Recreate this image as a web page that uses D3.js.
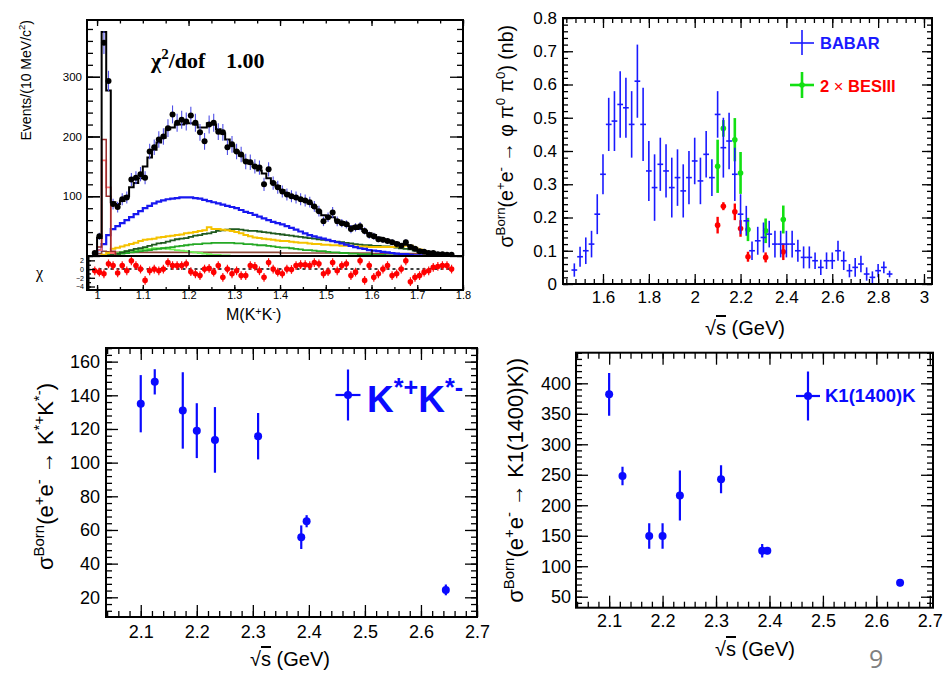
<!DOCTYPE html>
<html>
<head>
<meta charset="utf-8">
<script src="https://cdn.jsdelivr.net/npm/d3@7"></script>
<style>
  body { margin: 0; background: #fff; }
  text { white-space: pre; }
</style>
</head>
<body>
<svg id="chart" width="944" height="674"></svg>
<script>
// ---------------- M(K+K-) spectrum with fit (10 MeV bins) ----------------
const massStart = 0.995, massStep = 0.01;
const eventsData = [5,33,357,293,87,82,95,98,128,131,
  137,131,175,182,195,200,214,237,223,228,
  225,235,223,207,192,220,223,208,207,182,
  187,175,170,158,157,150,148,120,145,122,
  115,108,103,100,98,95,93,90,83,75,
  58,65,73,58,55,53,45,48,50,42,
  35,33,28,27,25,23,20,17,23,15,
  12,8,7,5,5,3,3,2,2];
const eventsErr = [2,6,19,17,9,9,10,10,11,11,
  12,11,13,13,14,14,15,15,15,15,
  15,15,15,14,14,15,15,14,14,13,
  14,13,13,13,13,12,12,11,12,11,
  11,10,10,10,10,10,10,9,9,9,
  8,8,9,8,7,7,7,7,7,6,
  6,6,5,5,5,5,4,4,5,4,
  3,3,3,2,2,2,2,1,1];
const fitTotal = [5,30,375,277,90,87,92,100,115,122,
  130,150,165,178,190,198,212,215,220,220,
  222,222,220,215,215,222,220,212,205,195,
  185,175,168,160,155,150,143,138,130,122,
  117,110,105,100,97,95,92,88,82,75,
  68,66,65,60,57,54,50,48,45,42,
  38,35,31,28,26,24,22,20,19,17,
  13,10,8,6,5,4,3,2,2];
const fitBlue = [2,10,20,35,45,50,55,60,65,70,
  75,80,84,88,91,93,95,96,97,98,
  98,98,97,96,94,92,90,88,86,84,
  82,80,77,74,72,69,66,63,60,57,
  55,53,50,47,44,41,38,35,33,31,
  29,27,25,23,21,19,17,15,13,12,
  10,9,8,7,6,5,4,3,3,2,
  1,1,0,0,0,0,0,0,0];
const fitYellow = [0,0,2,5,12,14,16,18,20,22,
  25,27,28,29,31,32,33,34,35,36,
  38,39,40,42,43,48,45,45,44,43,
  42,40,38,35,33,31,30,29,28,27,
  26,25,25,24,23,22,22,21,20,20,
  19,19,18,18,17,17,17,16,16,16,
  15,15,15,15,15,15,16,16,17,17,
  14,11,8,6,4,2,1,0,0];
const fitDarkGreen = [0,0,0,1,2,4,6,8,10,12,
  13,15,17,19,21,22,24,26,28,29,
  30,32,34,35,37,38,40,42,43,44,
  45,45,44,43,42,42,41,40,39,38,
  37,36,35,34,33,32,31,30,29,28,
  27,26,25,24,23,22,21,20,19,18,
  18,17,17,16,16,15,14,13,12,11,
  9,7,5,3,2,1,0,0,0];
const fitGreen = [0,0,0,1,2,3,4,5,6,7,
  8,9,10,11,12,13,14,15,16,17,
  18,19,20,20,21,21,22,22,22,22,
  22,21,21,20,20,19,18,18,17,16,
  15,14,14,13,12,11,10,10,9,8,
  8,7,6,6,5,5,4,4,3,3,
  3,2,2,2,1,1,1,0,0,0,
  0,0,0,0,0,0,0,0,0];
const fitLightGreen = [0,0,0,1,3,5,7,8,9,10,
  11,12,12,13,13,13,12,11,10,9,
  8,7,6,5,4,3,2,2,1,1,
  0,0,0,0,0,0,0,0,0,0,
  0,0,0,0,0,0,0,0,0,0,
  0,0,0,0,0,0,0,0,0,0,
  0,0,0,0,0,0,0,0,0,0,
  0,0,0,0,0,0,0,0,0];
const fitBrown = [0,4,8,7,6,6,6,6,6,6,
  6,6,6,6,6,6,6,6,6,6,
  6,6,6,6,6,6,6,6,6,6,
  6,6,6,6,6,6,6,6,6,6,
  6,5,5,5,5,5,5,5,5,5,
  5,5,5,5,5,5,5,5,5,5,
  5,4,4,4,4,4,4,4,4,4,
  4,4,4,2,2,2,0,0,0];
const phiBins = [0.995, 1.005, 1.015, 1.025, 1.035, 1.045];
const phiDarkRed = [0, 15, 195, 100, 8, 0];
const phiPink = [0, 10, 160, 115, 5, 0];
const chiValues = [-0.4,-0.7,-1.1,1.2,0.8,-0.9,0.8,-0.4,1.9,0.8,
  0,-2.6,-0.4,0,-0.4,0,1.5,0.8,0.8,0.8,
  1.2,-0.6,-1.1,-1.5,0,0.15,-0.7,0.8,-1.9,0,
  -1.1,-0.4,-1.5,-1.5,0.8,0.6,-0.4,-1.9,1.5,0,
  -0.7,-1.1,0,-0.1,0.8,1.0,1.0,0.8,1.5,1.2,
  -1.1,-0.6,1.5,-0.4,0.8,1.2,-1.5,-0.7,1.9,-2.6,
  0.8,-1.9,-1.1,0,0.8,-1.5,-1.1,0,1.9,-2.9,
  -1.9,-1.5,-0.7,-0.4,0.4,0.6,0.8,0.8,0];
const chiErr = 1;

// ---------------- sigma(e+e- -> phi pi0 pi0) ----------------
const babarStart = 1.475, babarStep = 0.025;
const babarValues = [0.042,0.082,0.10,0.12,0.21,0.33,0.48,0.49,0.54,0.53,
  0.48,0.61,0.48,0.34,0.29,0.36,0.34,0.29,0.32,0.28,
  0.32,0.37,0.31,0.39,0.32,0.51,0.41,0.43,0.33,0.21,
  0.19,0.10,0.13,0.14,0.15,0.12,0.12,0.12,0.12,0.10,
  0.08,0.08,0.07,0.05,0.07,0.07,0.10,0.07,0.04,0.05,
  0.06,0.03,0.02,0.04,0.05,0.03];
const babarErr = [0.02,0.03,0.04,0.04,0.06,0.06,0.08,0.09,0.10,0.09,
  0.10,0.11,0.11,0.09,0.10,0.08,0.08,0.09,0.085,0.08,
  0.08,0.07,0.07,0.07,0.055,0.07,0.09,0.085,0.08,0.06,
  0.045,0.028,0.042,0.045,0.04,0.04,0.04,0.04,0.04,0.033,
  0.033,0.033,0.025,0.023,0.025,0.025,0.03,0.028,0.02,0.028,
  0.025,0.02,0.018,0.02,0.018,0.01];
const besEnergies = [2.1, 2.125, 2.175, 2.2, 2.2324, 2.3094, 2.3864];
const besValues = [0.177, 0.234, 0.217, 0.167, 0.082, 0.080, 0.097];
const besErr = [0.025, 0.012, 0.025, 0.025, 0.015, 0.015, 0.025];
const besScale = 2;
const besScaledErr = [0.08, 0.025, 0.065, 0.063, 0.035, 0.037, 0.042];

// ---------------- K*+K*- and K1(1400)K cross sections ----------------
const scanEnergies = [2.1, 2.125, 2.175, 2.2, 2.2324, 2.3094, 2.3864, 2.396, 2.6444];
const kstarValues = [135, 148, 131, 119, 113.5, 115.7, 55.7, 65.2, 24.4];
const kstarErr = [17, 7.5, 22.7, 16.3, 19.5, 13.8, 7, 3.6, 3.2];
const k1Values = [382, 248, 149.6, 149.6, 216, 242.6, 125.5, 125.5, 73];
const k1Err = [35, 15, 21, 21, 41, 23, 11, 6, 6];

// ---------------- helpers ----------------
const FONT = "'Liberation Sans', Arial, Helvetica, sans-serif";
const SERIF = "'Liberation Serif', 'Times New Roman', serif";
const fix = v => +v.toFixed(6);
const steps = (a, b, s) => d3.range(Math.round((b - a) / s) + 1).map(i => fix(a + i * s));
const svg = d3.select("#chart");

// inward ROOT-style ticks on one side of a frame, optional labels
function ticksOn(g, side, scale, values, len, pos, opts = {}) {
  const dom = scale.domain();
  const lo = Math.min(...dom), hi = Math.max(...dom);
  const vals = values.filter(v => v >= lo - 1e-9 && v <= hi + 1e-9);
  const maker = {bottom: d3.axisBottom, top: d3.axisTop, left: d3.axisLeft, right: d3.axisRight}[side];
  const ax = maker(scale).tickValues(vals).tickSizeInner(-len).tickSizeOuter(0)
    .tickPadding(opts.pad ?? 3).tickFormat(opts.format || (() => ""));
  const horiz = side === "bottom" || side === "top";
  const s = g.append("g").attr("transform", horiz ? `translate(0,${pos})` : `translate(${pos},0)`).call(ax);
  s.select(".domain").remove();
  s.selectAll(".tick line").attr("stroke", "#000").attr("stroke-width", opts.w || 1.3);
  s.selectAll(".tick text").attr("font-family", FONT).attr("font-size", opts.size || 12).attr("fill", "#000");
  return s;
}

function frameBox(g, x, y, w) {
  const [xa, xb] = x.range(), [yb, ya] = y.range();
  g.append("rect").attr("x", xa).attr("y", ya).attr("width", xb - xa).attr("height", yb - ya)
    .attr("fill", "none").attr("stroke", "#000").attr("stroke-width", w || 2);
}

function fullFrame(g, x, y, c) {
  const [xa, xb] = x.range(), [yb, ya] = y.range();
  ticksOn(g, "bottom", x, c.xMinor, c.minLen, yb);
  ticksOn(g, "bottom", x, c.xMajor, c.majLen, yb, {format: c.xFmt, pad: c.xPad, size: c.fs});
  ticksOn(g, "top", x, c.xMinor, c.minLen, ya);
  ticksOn(g, "top", x, c.xMajor, c.majLen, ya);
  ticksOn(g, "left", y, c.yMinor, c.minLen, xa);
  ticksOn(g, "left", y, c.yMajor, c.majLen, xa, {format: c.yFmt, pad: c.yPad, size: c.fs});
  ticksOn(g, "right", y, c.yMinor, c.minLen, xb);
  ticksOn(g, "right", y, c.yMajor, c.majLen, xb);
  frameBox(g, x, y, 2);
}

// text made of normal and superscript runs
function rich(sel, parts, size, lift = 0.42) {
  let prev = 0;
  parts.forEach(([t, k]) => {
    const shift = k ? -lift * size : 0;
    sel.append("tspan").attr("dy", shift - prev).attr("font-size", k ? size * 0.68 : size).text(t);
    prev = shift;
  });
  return sel;
}

function yTitle(x, y, parts, size) {
  const t = svg.append("text").attr("transform", `translate(${x},${y}) rotate(-90)`)
    .attr("text-anchor", "end").attr("font-family", FONT).attr("fill", "#000");
  rich(t, parts, size);
}

function sqrtTitle(x, y, size) {
  const t = svg.append("text").attr("x", x).attr("y", y).attr("font-family", FONT)
    .attr("font-size", size).attr("fill", "#000");
  t.append("tspan").text("\u221A");
  t.append("tspan").attr("text-decoration", "overline").style("text-decoration", "overline").text("s");
  t.append("tspan").text(" (GeV)");
}

function clipFor(id, x, y) {
  const [xa, xb] = x.range(), [yb, ya] = y.range();
  svg.append("clipPath").attr("id", id).append("rect")
    .attr("x", xa).attr("y", ya).attr("width", xb - xa).attr("height", yb - ya);
  return svg.append("g").attr("clip-path", `url(#${id})`);
}

function stepPath(x, y, centers, vals, half) {
  const pts = centers.map((c, i) => [c - half, vals[i]]);
  pts.push([centers[centers.length - 1] + half, vals[vals.length - 1]]);
  return d3.line().x(d => x(d[0])).y(d => y(d[1])).curve(d3.curveStepAfter)(pts);
}

// ================= panel 1: M(K+K-) =================
{
  const x = d3.scaleLinear([0.978, 1.8], [87, 463]);
  const y = d3.scaleLinear([0, 395], [256, 20]);
  const yc = d3.scaleLinear([-4.8, 3], [290, 256]);
  const centers = eventsData.map((_, i) => fix(massStart + i * massStep));
  const half = massStep / 2;

  const plot = clipFor("clipMass", x, y);
  const comps = [
    [fitBrown, "#8c4636", 1.6],
    [fitLightGreen, "#74f05a", 1.8],
    [fitGreen, "#25a825", 1.8],
    [fitDarkGreen, "#1f5a1f", 1.8],
    [fitYellow, "#f5c200", 2],
    [fitBlue, "#1818f0", 2.2],
  ];
  comps.forEach(([vals, col, w]) => {
    plot.append("path").attr("d", stepPath(x, y, centers, vals, half))
      .attr("fill", "none").attr("stroke", col).attr("stroke-width", w);
  });
  plot.append("path").attr("d", stepPath(x, y, phiBins, phiPink, half))
    .attr("fill", "none").attr("stroke", "#ff7070").attr("stroke-width", 1.8);
  plot.append("path").attr("d", stepPath(x, y, phiBins, phiDarkRed, half))
    .attr("fill", "none").attr("stroke", "#9a2a2a").attr("stroke-width", 1.5);
  plot.append("path").attr("d", stepPath(x, y, centers, fitTotal, half))
    .attr("fill", "none").attr("stroke", "#000").attr("stroke-width", 2);

  plot.selectAll("line.err").data(eventsData).join("line")
    .attr("x1", (d, i) => x(centers[i])).attr("x2", (d, i) => x(centers[i]))
    .attr("y1", (d, i) => y(d - eventsErr[i])).attr("y2", (d, i) => y(d + eventsErr[i]))
    .attr("stroke", "#5050e8").attr("stroke-width", 1.1);
  plot.selectAll("circle.pt").data(eventsData).join("circle")
    .attr("cx", (d, i) => x(centers[i])).attr("cy", d => y(d)).attr("r", 3).attr("fill", "#000");

  const g = svg.append("g");
  ticksOn(g, "left", y, steps(0, 380, 20), 6, 87);
  ticksOn(g, "left", y, [0, 100, 200, 300], 13, 87);
  ticksOn(g, "left", y, [100, 200, 300], 13, 87, {format: d3.format("d"), pad: 5, size: 11.5});
  ticksOn(g, "right", y, steps(0, 380, 20), 6, 463);
  ticksOn(g, "right", y, [0, 100, 200, 300], 13, 463);
  ticksOn(g, "top", x, steps(1.0, 1.8, 0.05), 3.5, 20);
  ticksOn(g, "top", x, steps(1.0, 1.8, 0.2), 6, 20);
  ticksOn(g, "bottom", x, steps(1.0, 1.8, 0.2), 6, 256);
  frameBox(g, x, y, 2);

  // residual strip
  const res = clipFor("clipChi", x, yc);
  res.append("line").attr("x1", x(0.99)).attr("x2", x(1.78)).attr("y1", yc(0)).attr("y2", yc(0))
    .attr("stroke", "#000").attr("stroke-width", 1.5).attr("stroke-dasharray", "3,3");
  res.selectAll("line.cerr").data(chiValues).join("line")
    .attr("x1", (d, i) => x(centers[i])).attr("x2", (d, i) => x(centers[i]))
    .attr("y1", d => yc(d - chiErr)).attr("y2", d => yc(d + chiErr))
    .attr("stroke", "#ff1010").attr("stroke-width", 1.2);
  res.selectAll("circle.cpt").data(chiValues).join("circle")
    .attr("cx", (d, i) => x(centers[i])).attr("cy", d => yc(d)).attr("r", 2.8).attr("fill", "#ff0000");
  const gc = svg.append("g");
  ticksOn(gc, "left", yc, steps(-4, 2, 1), 4, 87);
  ticksOn(gc, "left", yc, [-4, -2, 0, 2], 8, 87, {format: d3.format("d"), pad: 3, size: 7});
  ticksOn(gc, "bottom", x, steps(1.0, 1.8, 0.05), 3, 290);
  ticksOn(gc, "bottom", x, steps(1.0, 1.8, 0.1), 5, 290, {format: v => (v === 1 ? "1" : d3.format(".1f")(v)), pad: 1, size: 11});
  frameBox(gc, x, yc, 2);
  gc.append("line").attr("x1", 88).attr("x2", 88).attr("y1", 256).attr("y2", 290)
    .attr("stroke", "#000").attr("stroke-width", 3);

  yTitle(31, 20, [["Events/(10 MeV/c", 0], ["2", 1], [")", 0]], 14);
  svg.append("text").attr("x", 36).attr("y", 278).attr("font-family", SERIF)
    .attr("font-size", 16).text("\u03C7");
  const chiTxt = svg.append("text").attr("x", 151).attr("y", 68).attr("font-family", SERIF)
    .attr("font-weight", "bold").attr("fill", "#000");
  rich(chiTxt, [["\u03C7", 0], ["2", 1], ["/dof", 0]], 22);
  svg.append("text").attr("x", 226).attr("y", 68).attr("font-family", SERIF)
    .attr("font-weight", "bold").attr("font-size", 22).text("1.00");
  const mx = svg.append("text").attr("x", 226).attr("y", 320).attr("font-family", FONT).attr("fill", "#000");
  rich(mx, [["M(K", 0], ["+", 1], ["K", 0], ["-", 1], [")", 0]], 16, 0.34);
}

// ================= panel 2: phi pi0 pi0 =================
{
  const x = d3.scaleLinear([1.4256, 3.035], [563, 932]);
  const y = d3.scaleLinear([0, 0.8], [284, 18]);
  const babarE = babarValues.map((_, i) => fix(babarStart + i * babarStep));
  const plot = clipFor("clipPhi", x, y);

  const drawBes = (vals, errs, col, w) => {
    plot.selectAll(null).data(vals).join("line")
      .attr("x1", (d, i) => x(besEnergies[i])).attr("x2", (d, i) => x(besEnergies[i]))
      .attr("y1", (d, i) => y(d - errs[i])).attr("y2", (d, i) => y(d + errs[i]))
      .attr("stroke", col).attr("stroke-width", w);
    plot.selectAll(null).data(vals).join("circle")
      .attr("cx", (d, i) => x(besEnergies[i])).attr("cy", d => y(d)).attr("r", 2.8).attr("fill", col);
  };
  drawBes(besValues, besErr, "#ff0000", 2.4);
  drawBes(besValues.map(v => v * besScale), besScaledErr, "#12e012", 2.6);

  plot.selectAll(null).data(babarValues).join("line")
    .attr("x1", (d, i) => x(babarE[i])).attr("x2", (d, i) => x(babarE[i]))
    .attr("y1", (d, i) => y(d - babarErr[i])).attr("y2", (d, i) => y(d + babarErr[i]))
    .attr("stroke", "#1a1aff").attr("stroke-width", 1.6);
  plot.selectAll(null).data(babarValues).join("line")
    .attr("x1", (d, i) => x(babarE[i] - babarStep / 2)).attr("x2", (d, i) => x(babarE[i] + babarStep / 2))
    .attr("y1", d => y(d)).attr("y2", d => y(d))
    .attr("stroke", "#1a1aff").attr("stroke-width", 1.6);

  const g = svg.append("g");
  fullFrame(g, x, y, {
    xMinor: steps(1.44, 3.0, 0.04), xMajor: steps(1.6, 3.0, 0.2), majLen: 10, minLen: 5,
    yMinor: steps(0, 0.8, 0.02), yMajor: steps(0, 0.8, 0.1),
    xFmt: d3.format("~g"), yFmt: d3.format("~g"), xPad: 7, yPad: 6, fs: 17
  });

  // legend
  const lg = svg.append("g");
  lg.append("line").attr("x1", 790).attr("x2", 814).attr("y1", 43).attr("y2", 43).attr("stroke", "#1a1aff").attr("stroke-width", 1.6);
  lg.append("line").attr("x1", 802).attr("x2", 802).attr("y1", 30).attr("y2", 55).attr("stroke", "#1a1aff").attr("stroke-width", 1.6);
  lg.append("text").attr("x", 820).attr("y", 49).attr("font-family", FONT).attr("font-weight", "bold")
    .attr("font-size", 16.5).attr("fill", "#1a1aff").text("BABAR");
  lg.append("line").attr("x1", 790).attr("x2", 814).attr("y1", 85).attr("y2", 85).attr("stroke", "#12e012").attr("stroke-width", 2.6);
  lg.append("line").attr("x1", 802).attr("x2", 802).attr("y1", 72).attr("y2", 98).attr("stroke", "#12e012").attr("stroke-width", 2.6);
  lg.append("circle").attr("cx", 802).attr("cy", 85).attr("r", 2.8).attr("fill", "#12e012");
  const bt = lg.append("text").attr("x", 820).attr("y", 92).attr("font-family", FONT)
    .attr("font-size", 16.5).attr("fill", "#ff0000");
  bt.append("tspan").attr("font-weight", "bold").text("2 ");
  bt.append("tspan").text("\u00D7");
  bt.append("tspan").attr("font-weight", "bold").text(" BESIII");

  yTitle(513, 25, [["\u03C3", 0], ["Born", 1], ["(e", 0], ["+", 1], ["e", 0], ["-", 1],
    [" \u2192 \u03C6 \u03C0", 0], ["0", 1], [" \u03C0", 0], ["0", 1], [") (nb)", 0]], 19.5);
  sqrtTitle(705, 335, 20);
}

// ================= panels 3 and 4: scan cross sections =================
function scanPanel(id, xr, yr, xDom, yDom, vals, errs, cfg) {
  const x = d3.scaleLinear(xDom, xr);
  const y = d3.scaleLinear(yDom, yr);
  const plot = clipFor(id, x, y);
  plot.selectAll(null).data(vals).join("line")
    .attr("x1", (d, i) => x(scanEnergies[i])).attr("x2", (d, i) => x(scanEnergies[i]))
    .attr("y1", (d, i) => y(d - errs[i])).attr("y2", (d, i) => y(d + errs[i]))
    .attr("stroke", "#0a0aff").attr("stroke-width", 2.2);
  plot.selectAll(null).data(vals).join("circle")
    .attr("cx", (d, i) => x(scanEnergies[i])).attr("cy", d => y(d)).attr("r", 4).attr("fill", "#0a0aff");
  fullFrame(svg.append("g"), x, y, cfg);
  return {x, y};
}

scanPanel("clipKstar", [106, 477], [617, 348], [2.038, 2.7], [8.3, 168.1], kstarValues, kstarErr, {
  xMinor: steps(2.04, 2.7, 0.02), xMajor: steps(2.1, 2.7, 0.1), majLen: 12, minLen: 6,
  yMinor: steps(12, 168, 4), yMajor: steps(20, 160, 20),
  xFmt: d3.format(".1f"), yFmt: d3.format("d"), xPad: 8, yPad: 6, fs: 18
});
scanPanel("clipK1", [576, 933], [607.7, 352.7], [2.038, 2.706], [32, 450.2], k1Values, k1Err, {
  xMinor: steps(2.04, 2.7, 0.02), xMajor: steps(2.1, 2.7, 0.1), majLen: 12, minLen: 6,
  yMinor: steps(40, 450, 10), yMajor: steps(50, 400, 50),
  xFmt: d3.format(".1f"), yFmt: d3.format("d"), xPad: 6.5, yPad: 5, fs: 18
});

// legends of the scan panels
function crossMarker(cx, cy, hw, hh) {
  svg.append("line").attr("x1", cx - hw).attr("x2", cx + hw).attr("y1", cy).attr("y2", cy).attr("stroke", "#0a0aff").attr("stroke-width", 2.2);
  svg.append("line").attr("x1", cx).attr("x2", cx).attr("y1", cy - hh).attr("y2", cy + hh).attr("stroke", "#0a0aff").attr("stroke-width", 2.2);
  svg.append("circle").attr("cx", cx).attr("cy", cy).attr("r", 4).attr("fill", "#0a0aff");
}
crossMarker(348, 395, 12.5, 25.5);
const kl = svg.append("text").attr("x", 367).attr("y", 412).attr("font-family", FONT)
  .attr("font-weight", "bold").attr("fill", "#0a0aff");
rich(kl, [["K", 0], ["*+", 1], ["K", 0], ["*-", 1]], 37);
crossMarker(808, 396, 12, 24.5);
svg.append("text").attr("x", 825).attr("y", 402).attr("font-family", FONT).attr("font-weight", "bold")
  .attr("font-size", 18.5).attr("fill", "#0a0aff").text("K1(1400)K");

yTitle(53, 383, [["\u03C3", 0], ["Born", 1], ["(e", 0], ["+", 1], ["e", 0], ["-", 1],
  [" \u2192 K", 0], ["*+", 1], ["K", 0], ["*-", 1], [")", 0]], 22);
yTitle(523, 358, [["\u03C3", 0], ["Born", 1], ["(e", 0], ["+", 1], ["e", 0], ["-", 1],
  [" \u2192 K1(1400)K))", 0]], 22);
sqrtTitle(250, 666, 20);
sqrtTitle(715, 656, 20);

// slide page number
svg.append("text").attr("x", 869).attr("y", 668).attr("font-family", "'Open Sans', 'Noto Sans', sans-serif")
  .attr("font-size", 25).attr("fill", "#808080").text("9");
</script>
</body>
</html>
